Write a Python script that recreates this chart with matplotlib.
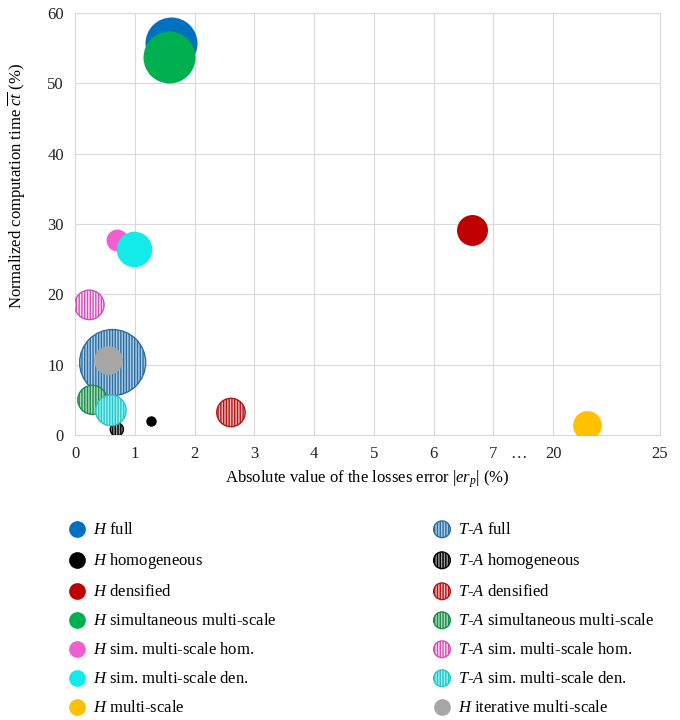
import numpy as np
import matplotlib
matplotlib.use("Agg")
import matplotlib.pyplot as plt
from matplotlib.transforms import blended_transform_factory

plt.rcParams['font.family'] = ['Liberation Serif', 'DejaVu Serif']
plt.rcParams['mathtext.fontset'] = 'custom'
plt.rcParams['mathtext.rm'] = 'Liberation Serif'
plt.rcParams['mathtext.it'] = 'Liberation Serif:italic'
plt.rcParams['hatch.linewidth'] = 1.0

# series: losses error (%), computation time (%), bubble value
labels = [r'$H$ full', r'$H$ homogeneous', r'$H$ densified',
          r'$H$ simultaneous multi-scale', r'$H$ sim. multi-scale hom.',
          r'$H$ sim. multi-scale den.', r'$H$ multi-scale',
          r'$T$-$A$ full', r'$T$-$A$ homogeneous', r'$T$-$A$ densified',
          r'$T$-$A$ simultaneous multi-scale', r'$T$-$A$ sim. multi-scale hom.',
          r'$T$-$A$ sim. multi-scale den.', r'$H$ iterative multi-scale']
err = [1.60, 1.27, 6.64, 1.58, 0.71, 0.99, 21.6,
       0.63, 0.70, 2.61, 0.29, 0.24, 0.60, 0.56]
ctime = [55.8, 2.0, 29.2, 53.7, 27.7, 26.4, 1.4,
         10.3, 0.8, 3.2, 5.0, 18.5, 3.5, 10.6]
bubble = [62, 2.5, 22, 62, 11, 29, 19,
          100, 4, 18.5, 19.3, 20, 21.5, 18.8]

faces = ['#0070C0', '#000000', '#C00000', '#00B050', '#F25FD0', '#13EAEA', '#FFC000',
         '#A9CDEA', '#9A9A9A', '#F3B5B5', '#A6DDB8', '#FBE3F5', '#8EF3F3', '#A6A6A6']
edges = ['#0070C0', '#000000', '#C00000', '#00B050', '#F25FD0', '#13EAEA', '#FFC000',
         '#2E6E9E', '#000000', '#B01818', '#1F8A4C', '#D050B8', '#2EC4C4', '#A6A6A6']
hatched = [False] * 7 + [True] * 6 + [False]

# x axis: 0-7 linear, 7-20 squeezed into one unit, 20-25 stretched
xp = [-100, 0, 7, 20, 25, 100]
fp = [-100, 0, 7, 8, 9.79, 9.79 + 75 * 1.79 / 5]


def fwd(x):
    return np.interp(x, xp, fp)


def inv(u):
    return np.interp(u, fp, xp)


fig = plt.figure(figsize=(6.8, 7.2), dpi=100)
ax = fig.add_axes([75 / 680, 1 - 435 / 720, 585 / 680, 422 / 720])
ax.set_xscale('function', functions=(fwd, inv))

handles = []
for i in range(len(labels)):
    h = ax.scatter(err[i], ctime[i], s=bubble[i] * 22.6, c=faces[i],
                   edgecolors=edges[i], linewidths=1.0 if hatched[i] else 0,
                   hatch='||||||' if hatched[i] else None, label=labels[i],
                   zorder=3)
    handles.append(h)

fs = 12
ax.set_xlim(0, 25)
ax.set_ylim(0, 60)
ax.set_xticks([0, 1, 2, 3, 4, 5, 6, 7, 20, 25])
ax.set_xticklabels(['0', '1', '2', '3', '4', '5', '6', '7', '20', '25'])
ax.set_yticks(range(0, 61, 10))
ax.tick_params(length=0, labelsize=fs, pad=8, colors='#222222')
ax.grid(True, color='#D9D9D9', linewidth=0.8, zorder=0)
for sp in ax.spines.values():
    sp.set_color('#D9D9D9')
    sp.set_linewidth(0.8)

trans = blended_transform_factory(ax.transData, ax.transAxes)
ax.text(inv(7.42), -0.027, '…', transform=trans, ha='center', va='top',
        fontsize=fs, color='#222222')

ax.set_xlabel(r'Absolute value of the losses error $|er_p|$ (%)', fontsize=fs)
ax.xaxis.set_label_coords(0.5, -0.078)
ax.set_ylabel(r'Normalized computation time $\overline{ct}$ (%)', fontsize=fs)
ax.yaxis.set_label_coords(-0.08, 0.59)

leg_kw = dict(frameon=False, fontsize=fs, labelspacing=0.78,
              handlelength=1.0, handletextpad=0.45, borderaxespad=0,
              scatterpoints=1, loc='upper left')
leg1 = fig.legend(handles[:7], labels[:7], bbox_to_anchor=(62 / 680, 1 - 515 / 720), **leg_kw)
leg2 = fig.legend(handles[7:], labels[7:], bbox_to_anchor=(427 / 680, 1 - 515 / 720), **leg_kw)
for leg in (leg1, leg2):
    for lh in leg.legend_handles:
        lh.set_sizes([145])

fig.savefig('out.png', dpi=100)
